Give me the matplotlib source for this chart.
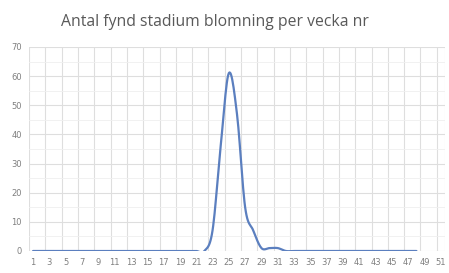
import numpy as np
import matplotlib.pyplot as plt

# veckor 1..51 på kategoriaxeln, data finns t.o.m. vecka 48
veckor = list(range(1, 52))
data_veckor = list(range(1, 49))
antal = [0] * 22 + [7, 36, 61, 47, 15, 7, 1, 1, 1] + [0] * 17
ytick_varden = [0, 10, 20, 30, 40, 50, 60, 70]
titel = "Antal fynd stadium blomning per vecka nr"


def mjuk_linje(x, y, n=12):
    # Catmull-Rom liknande Excels "utjämnad linje"
    x = np.asarray(x, float)
    y = np.asarray(y, float)
    px = np.concatenate([[x[0]], x, [x[-1]]])
    py = np.concatenate([[y[0]], y, [y[-1]]])
    xs, ys = [], []
    for i in range(1, len(px) - 2):
        t = np.linspace(0, 1, n, endpoint=False)
        for p, out in ((px, xs), (py, ys)):
            p0, p1, p2, p3 = p[i - 1], p[i], p[i + 1], p[i + 2]
            m1 = (p2 - p0) / 2
            m2 = (p3 - p1) / 2
            h00 = 2 * t**3 - 3 * t**2 + 1
            h10 = t**3 - 2 * t**2 + t
            h01 = -2 * t**3 + 3 * t**2
            h11 = t**3 - t**2
            out.extend(h00 * p1 + h10 * m1 + h01 * p2 + h11 * m2)
    xs.append(x[-1])
    ys.append(y[-1])
    return np.array(xs), np.array(ys)


fig = plt.figure(figsize=(4.49, 2.73), dpi=100)
ax = fig.add_axes([0.0646, 0.0806, 0.9264, 0.7474])

sx, sy = mjuk_linje(data_veckor, antal)
ax.plot(sx, sy, color="#5b7fbf", lw=1.6, solid_capstyle="round", zorder=3)

ax.set_xlim(0.5, 51.5)
ax.set_ylim(0, 70)
ax.set_xticks(veckor[::2])
ax.set_xticklabels([str(v) for v in veckor[::2]])
ax.set_yticks(ytick_varden)

for gx in np.arange(0.5, 52, 2):
    ax.axvline(gx, color="#dedede", lw=0.8, zorder=1)
ax.axvline(51.5, color="#dedede", lw=0.8, zorder=1)
for gy in ytick_varden:
    ax.axhline(gy, color="#dedede", lw=0.8, zorder=1)
for gy in range(5, 70, 10):
    ax.axhline(gy, color="#efefef", lw=0.6, zorder=1)

for s in ax.spines.values():
    s.set_visible(False)
ax.tick_params(length=0, labelsize=6, colors="#7f7f7f", pad=5)

fig.text(0.479, 0.919, titel, ha="center", va="center", fontsize=11.3,
         color="#595959", family="Open Sans")

fig.savefig("out.png", dpi=100)
